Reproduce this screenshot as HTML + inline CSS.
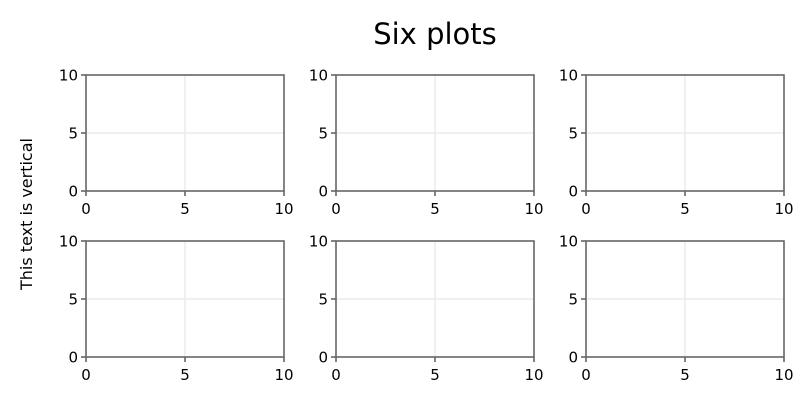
<!DOCTYPE html>
<html><head><meta charset="utf-8"><style>
body{margin:0;background:#fff}
svg{display:block;font-family:"DejaVu Sans","Liberation Sans",sans-serif}
</style></head><body>
<svg id="chart" width="800" height="400" viewBox="0 0 800 400">
<rect width="800" height="400" fill="#fff"/>
<text x="435" y="44" font-size="29" text-anchor="middle" fill="#000">Six plots</text>
<text transform="translate(32,214) rotate(-90)" font-size="16" text-anchor="middle" fill="#000">This text is vertical</text>
</svg>
<script>
const xTicks=[0,5,10];
const yTicks=[0,5,10];
const xDomain=[0,10];
const yDomain=[0,10];
const colsX=[86,336,586];
const rowsY=[75,241];
const W=198,H=116;
const svg=document.getElementById('chart');
const NS='http://www.w3.org/2000/svg';
function mk(t,a,p){const e=document.createElementNS(NS,t);for(const k in a)e.setAttribute(k,a[k]);p.appendChild(e);return e;}
let n=0;
rowsY.forEach((y0)=>{colsX.forEach((x0)=>{
 n++;
 const g=mk('g',{},svg);
 
 
 const sx=v=>x0+(v-xDomain[0])/(xDomain[1]-xDomain[0])*W;
 const sy=v=>y0+H-(v-yDomain[0])/(yDomain[1]-yDomain[0])*H;
 xTicks.forEach(v=>{
  if(v>xDomain[0]&&v<xDomain[1]){const l=mk('line',{x1:sx(v),x2:sx(v),y1:y0,y2:y0+H,stroke:'#ebebeb','stroke-width':1.5},g);
  
  }
 });
 yTicks.forEach(v=>{
  if(v>yDomain[0]&&v<yDomain[1]){const l=mk('line',{x1:x0,x2:x0+W,y1:sy(v),y2:sy(v),stroke:'#ebebeb','stroke-width':1.5},g);
  
  }
 });
 const r=mk('rect',{x:x0,y:y0,width:W,height:H,fill:'none',stroke:'#666','stroke-width':1.6},g);
 
 
 xTicks.forEach(v=>{
  mk('line',{x1:sx(v),x2:sx(v),y1:y0+H,y2:y0+H+5,stroke:'#666','stroke-width':1.6},g);
  const t=mk('text',{x:sx(v),y:y0+H+23,'font-size':15,'text-anchor':'middle',fill:'#000'},g);
  t.textContent=v;
  
  
 });
 yTicks.forEach(v=>{
  mk('line',{x1:x0-5,x2:x0,y1:sy(v),y2:sy(v),stroke:'#666','stroke-width':1.6},g);
  const t=mk('text',{x:x0-8,y:sy(v)+5.5,'font-size':15,'text-anchor':'end',fill:'#000'},g);
  t.textContent=v;
  
  
 });
});});
</script>
</body></html>
